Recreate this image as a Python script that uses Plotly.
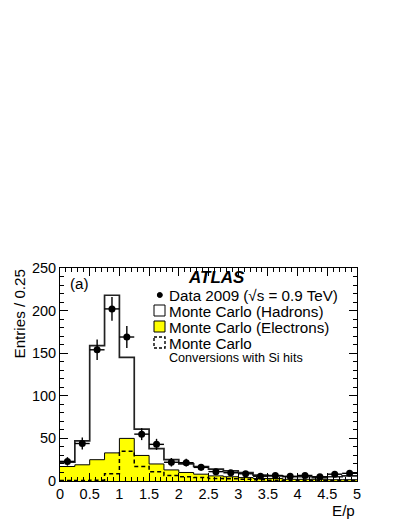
import plotly.graph_objects as go

# E/p bins, width 0.25
edges = [0.25 * i for i in range(21)]
centers = [e + 0.125 for e in edges[:-1]]

mc_total = [22, 47, 159, 218, 145, 61, 38, 25, 20, 17, 14, 12, 10, 7, 6, 5, 5, 4, 5, 6]
mc_electrons = [17, 19, 25, 33, 50, 30, 20, 13, 10, 8, 6, 5, 4, 3, 3, 2, 2, 2, 1.5, 1.5]
mc_conversions = [0.5, 0.5, 1, 8.5, 35, 17, 11, 6.5, 5, 4, 3, 2.5, 2, 1.5, 1, 1, 1, 0.5, 0.5, 0.5]

data_vals = [23, 44, 154, 202, 169, 55, 43, 22, 21.5, 16, 11, 9.7, 8.5, 5.6, 6.5, 5.5, 6.5, 5, 8, 9]
data_errs = [5, 7, 12, 14, 13, 7, 6.5, 5, 4.6, 4, 3.3, 3.1, 2.9, 2.4, 2.5, 2.3, 2.5, 2.2, 2.8, 3]


def steps(vals):
    return edges, list(vals) + [vals[-1]]


fig = go.Figure()

x, y = steps(mc_total)
fig.add_trace(go.Scatter(x=x, y=y, mode="lines", line=dict(shape="hv", color="#222", width=1.7),
                         fill="tozeroy", fillcolor="white", showlegend=False))
x, y = steps(mc_electrons)
fig.add_trace(go.Scatter(x=x, y=y, mode="lines", line=dict(shape="hv", color="black", width=1),
                         fill="tozeroy", fillcolor="#ffff00", showlegend=False))
x, y = steps(mc_conversions)
fig.add_trace(go.Scatter(x=x, y=y, mode="lines", line=dict(shape="hv", color="black", width=1.5, dash="4px,3px"),
                         showlegend=False))
fig.add_trace(go.Scatter(x=centers, y=data_vals, mode="markers",
                         marker=dict(color="black", size=7),
                         error_y=dict(type="data", array=data_errs, color="black", thickness=1.4, width=0),
                         error_x=dict(type="constant", value=0.125, color="black", thickness=1.4, width=0),
                         showlegend=False))

FAM = "Liberation Sans, Arial, sans-serif"
font = dict(family=FAM, size=15.2, color="black")
small = dict(family=FAM, size=12.6, color="black")

# plot area in window pixels (page body has an 8px margin)
L, R, T, B = 60, 357, 268, 481


def px(v):
    return (v - L) / (R - L)


def py(v):
    return (B - v) / (B - T)


ann = [
    dict(text="<b><i>ATLAS</i></b>", x=216, y=277, font=dict(family=FAM, size=17, color="black"), xanchor="center"),
    dict(text="Data 2009 (√s = 0.9 TeV)", x=167, y=295, font=font, xanchor="left"),
    dict(text="Monte Carlo (Hadrons)", x=167, y=311, font=font, xanchor="left"),
    dict(text="Monte Carlo (Electrons)", x=167, y=327, font=font, xanchor="left"),
    dict(text="Monte Carlo", x=167, y=343, font=font, xanchor="left"),
    dict(text="Conversions with Si hits", x=167, y=358, font=small, xanchor="left"),
    dict(text="(a)", x=68, y=283, font=font, xanchor="left"),
]
annotations = []
for a in ann:
    ax, ay = a.pop("x"), a.pop("y")
    annotations.append(dict(a, x=px(ax), y=py(ay), xref="paper", yref="paper",
                            yanchor="middle", showarrow=False))

annotations.append(dict(text="Entries / 0.25", x=px(18.5), y=py(267), xref="paper", yref="paper", textangle=-90,
                        xanchor="center", yanchor="top", showarrow=False, font=font))
annotations.append(dict(text="E/p", x=px(357), y=py(510), xref="paper", yref="paper", xanchor="right",
                        yanchor="middle", showarrow=False, font=font))


def pbox(x0, y0, x1, y1, **kw):
    return dict(type="rect", xref="paper", yref="paper", x0=px(x0), x1=px(x1), y0=py(y0), y1=py(y1), **kw)


shapes = [
    pbox(154, 305, 165, 316, line=dict(color="black", width=1), fillcolor="white"),
    pbox(154, 321, 165, 332, line=dict(color="black", width=1), fillcolor="#ffff00"),
    pbox(154, 337, 165, 348, line=dict(color="black", width=1.4, dash="3px,2px"), fillcolor="white"),
    dict(type="circle", xref="paper", yref="paper", x0=px(157.3), x1=px(162.3), y0=py(292.5), y1=py(297.5),
         line=dict(color="black", width=1), fillcolor="black"),
]

axis_common = dict(showline=True, linecolor="black", linewidth=1, mirror="ticks", ticks="inside",
                   tickcolor="black", ticklen=8, showgrid=False, zeroline=False,
                   tickfont=dict(family=FAM, size=14.5, color="black"))

fig.update_layout(
    width=399, height=519,
    margin=dict(l=52, r=50, t=260, b=46),
    paper_bgcolor="white", plot_bgcolor="white",
    xaxis=dict(axis_common, range=[0, 5], dtick=0.5, tick0=0,
               minor=dict(dtick=0.1, ticklen=4, ticks="inside", tickcolor="black")),
    yaxis=dict(axis_common, range=[0, 250], dtick=50, tick0=0,
               minor=dict(dtick=10, ticklen=4, ticks="inside", tickcolor="black")),
    annotations=annotations,
    shapes=shapes,
)

fig.write_html("out.html")
